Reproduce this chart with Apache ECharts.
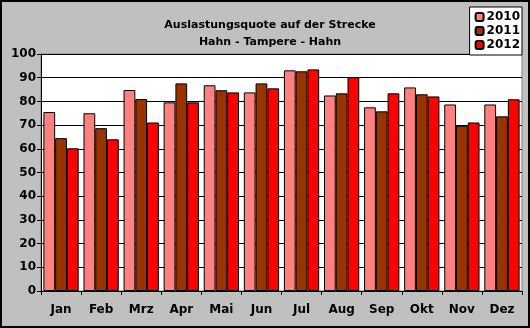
<!DOCTYPE html>
<html><head><meta charset="utf-8">
<script src="https://cdn.jsdelivr.net/npm/echarts@6/dist/echarts.min.js"></script>
<style>html,body{margin:0;padding:0;background:#C0C0C0}#c{width:530px;height:328px}</style>
</head><body><div id="c"></div>
<script>
const categories = ["Jan","Feb","Mrz","Apr","Mai","Jun","Jul","Aug","Sep","Okt","Nov","Dez"];
const s2010 = [75.5, 75.0, 84.8, 79.6, 86.8, 83.8, 93.1, 82.5, 77.5, 85.9, 78.7, 78.7];
const s2011 = [64.5, 68.7, 81.0, 87.6, 84.7, 87.6, 92.7, 83.4, 75.8, 83.0, 69.7, 73.7];
const s2012 = [60.2, 64.0, 71.1, 79.6, 83.8, 85.5, 93.5, 90.2, 83.4, 82.1, 71.1, 80.9];
const yTicks = [0,10,20,30,40,50,60,70,80,90,100];

const font = 'DejaVu Sans, Verdana, sans-serif';
const chart = echarts.init(document.getElementById('c'), null, {renderer:'canvas'});
function ser(name, data, color){
  return {name, type:'bar', data, barGap:'0%', barCategoryGap:'12%',
    itemStyle:{color, borderColor:'#000', borderWidth:1}};
}
chart.setOption({
  animation:false,
  backgroundColor:'#C0C0C0',
  title:{text:'Auslastungsquote auf der Strecke\nHahn - Tampere - Hahn', left:265, textAlign:'center', top:12,
    textStyle:{fontFamily:font, fontSize:11, fontWeight:'bold', color:'#000', lineHeight:17}},
  legend:{orient:'vertical', right:8, top:7, backgroundColor:'#fff', borderColor:'#000', borderWidth:1,
    padding:[3,2,3,5], itemWidth:8, itemHeight:8, itemGap:0,
    textStyle:{fontFamily:font, fontSize:12, fontWeight:'bold', color:'#000', padding:[0,0,0,-2], lineHeight:14},
    data:['2010','2011','2012']},
  grid:{left:41, right:8, top:54, bottom:37, show:true, backgroundColor:'#fff', borderColor:'#808080', borderWidth:1},
  xAxis:{type:'category', data:categories,
    axisLine:{lineStyle:{color:'#000', width:1}},
    axisTick:{show:true, length:4, lineStyle:{color:'#000'}},
    axisLabel:{fontFamily:font, fontSize:12, fontWeight:'bold', color:'#000', margin:13}},
  yAxis:{type:'value', min:0, max:100, interval:10,
    axisLine:{show:true, lineStyle:{color:'#000'}},
    axisTick:{show:true, length:4, lineStyle:{color:'#000'}},
    splitLine:{lineStyle:{color:'#000', width:1}},
    axisLabel:{fontFamily:font, fontSize:12, fontWeight:'bold', color:'#000', margin:5,
      formatter:v=> yTicks.includes(v) ? String(v) : ''}},
  series:[ser('2010', s2010, '#FF8080'), ser('2011', s2011, '#993300'), ser('2012', s2012, '#FF0000')],
  graphic:[{type:'rect', shape:{x:1, y:1, width:528, height:326}, style:{fill:'none', stroke:'#000', lineWidth:2}, silent:true, z:100}]
});
</script></body></html>
